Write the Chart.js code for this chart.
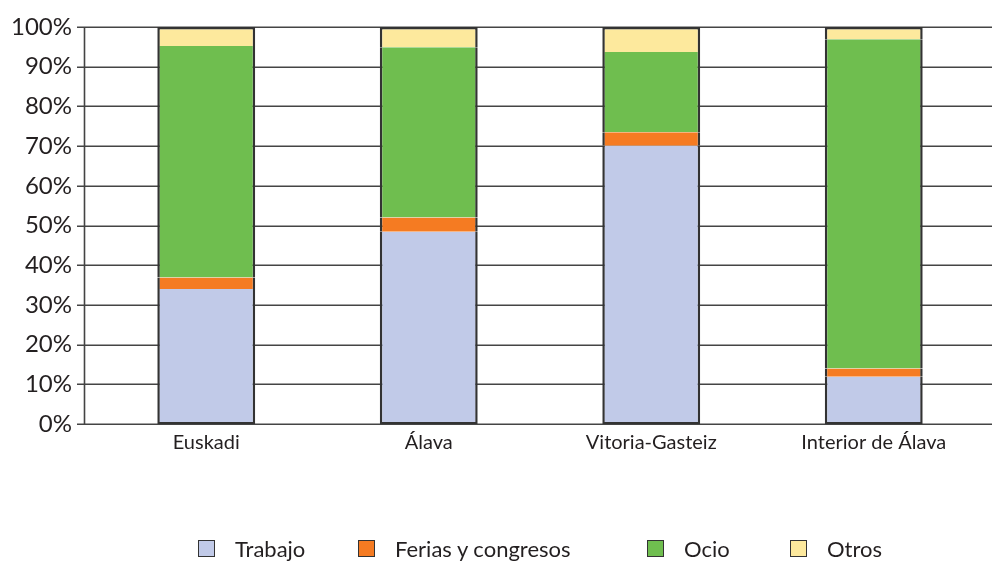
<!DOCTYPE html>
<html>
<head>
<meta charset="utf-8">
<script src="https://cdn.jsdelivr.net/npm/chart.js@4/dist/chart.umd.min.js"></script>
<style>
  html, body { margin: 0; padding: 0; background: #ffffff; }
  #wrap { position: relative; width: 992px; height: 561px; }
  canvas { position: absolute; left: 0; top: 0; }
  .lg { position: absolute; top: 538px; height: 20px; display: flex; align-items: center; font-family: Lato, "Open Sans", sans-serif; font-size: 22px; color: #231f20; white-space: nowrap; }
  .lg span.box { display: inline-block; width: 15px; height: 15px; border: 1.5px solid #333; margin-right: 20px; }
</style>
</head>
<body>
<div id="wrap">
  <canvas id="c" width="992" height="561"></canvas>
</div>
<script>
const categories = ["Euskadi", "Álava", "Vitoria-Gasteiz", "Interior de Álava"];
const seriesNames = ["Trabajo", "Ferias y congresos", "Ocio", "Otros"];
const trabajo = [34.0, 48.4, 70.1, 11.9];
const ferias  = [2.9, 3.6, 3.4, 2.1];
const ocio    = [58.3, 42.9, 20.2, 82.9];
const otros   = [4.8, 5.1, 6.3, 3.1];
const yTicks  = [0, 10, 20, 30, 40, 50, 60, 70, 80, 90, 100];

const colors = ["#c1cae8", "#f57b22", "#6fbe4f", "#fde99d"];
const legendLeft = [198, 358, 647, 790];
const edge = "#333333";
const plotTop = 27;

const seriesValues = [trabajo, ferias, ocio, otros];
const borderWidths = [
  {left: 2.5, right: 2.5, bottom: 2, top: 0},
  {left: 2.5, right: 2.5, bottom: 0, top: 0},
  {left: 2.5, right: 2.5, bottom: 0, top: 0},
  {left: 2.5, right: 2.5, bottom: 0, top: 2.5}
];

const datasets = seriesNames.map((name, i) => ({
  label: name,
  data: seriesValues[i],
  backgroundColor: colors[i],
  borderColor: edge,
  borderWidth: borderWidths[i],
  borderSkipped: false,
  barPercentage: 0.44,
  categoryPercentage: 1.0
}));

const topFix = {
  id: 'topFix',
  afterLayout(chart) {
    const y = chart.scales.y;
    y.top = plotTop;
    y.height = y.bottom - y.top;
    y.configure();
    chart.chartArea.top = plotTop;
    chart.chartArea.height = chart.chartArea.bottom - plotTop;
  }
};

const gridPlugin = {
  id: 'refGrid',
  beforeDatasetsDraw(chart) {
    const ctx = chart.ctx;
    const ys = chart.scales.y;
    ctx.save();
    ctx.strokeStyle = '#444444';
    ctx.lineWidth = 1.6;
    yTicks.forEach(v => {
      const y = Math.round(ys.getPixelForValue(v)) + 0.25;
      ctx.beginPath();
      ctx.moveTo(77, y);
      ctx.lineTo(992, y);
      ctx.stroke();
    });
    ctx.beginPath();
    ctx.moveTo(84.5, ys.getPixelForValue(100));
    ctx.lineTo(84.5, ys.getPixelForValue(0));
    ctx.stroke();
    ctx.restore();
  }
};

new Chart(document.getElementById('c'), {
  type: 'bar',
  data: { labels: categories, datasets },
  options: {
    responsive: false,
    animation: false,
    devicePixelRatio: 1,
    layout: { padding: { top: 10, right: 7, bottom: 0, left: 0 } },
    plugins: { legend: { display: false }, tooltip: { enabled: false } },
    scales: {
      x: {
        stacked: true,
        grid: { display: false, drawTicks: false },
        border: { display: false },
        ticks: { color: '#231f20', font: { family: 'Lato', size: 20 }, padding: 7 },
        afterFit(s) { s.height = 137; }
      },
      y: {
        stacked: true,
        min: 0, max: 100,
        afterBuildTicks(s) { s.ticks = yTicks.map(v => ({ value: v })); },
        grid: { display: false, drawTicks: false },
        border: { display: false },
        ticks: { color: '#231f20', font: { family: 'Lato', size: 24 }, padding: 23, callback: v => v + '%' },
        afterFit(s) { s.width = 95; }
      }
    }
  },
  plugins: [topFix, gridPlugin]
});

const wrap = document.getElementById('wrap');
seriesNames.forEach((name, i) => {
  const d = document.createElement('div');
  d.className = 'lg';
  d.style.left = legendLeft[i] + 'px';
  const b = document.createElement('span');
  b.className = 'box';
  b.style.background = colors[i];
  d.appendChild(b);
  d.appendChild(document.createTextNode(name));
  wrap.appendChild(d);
});
</script>
</body>
</html>
